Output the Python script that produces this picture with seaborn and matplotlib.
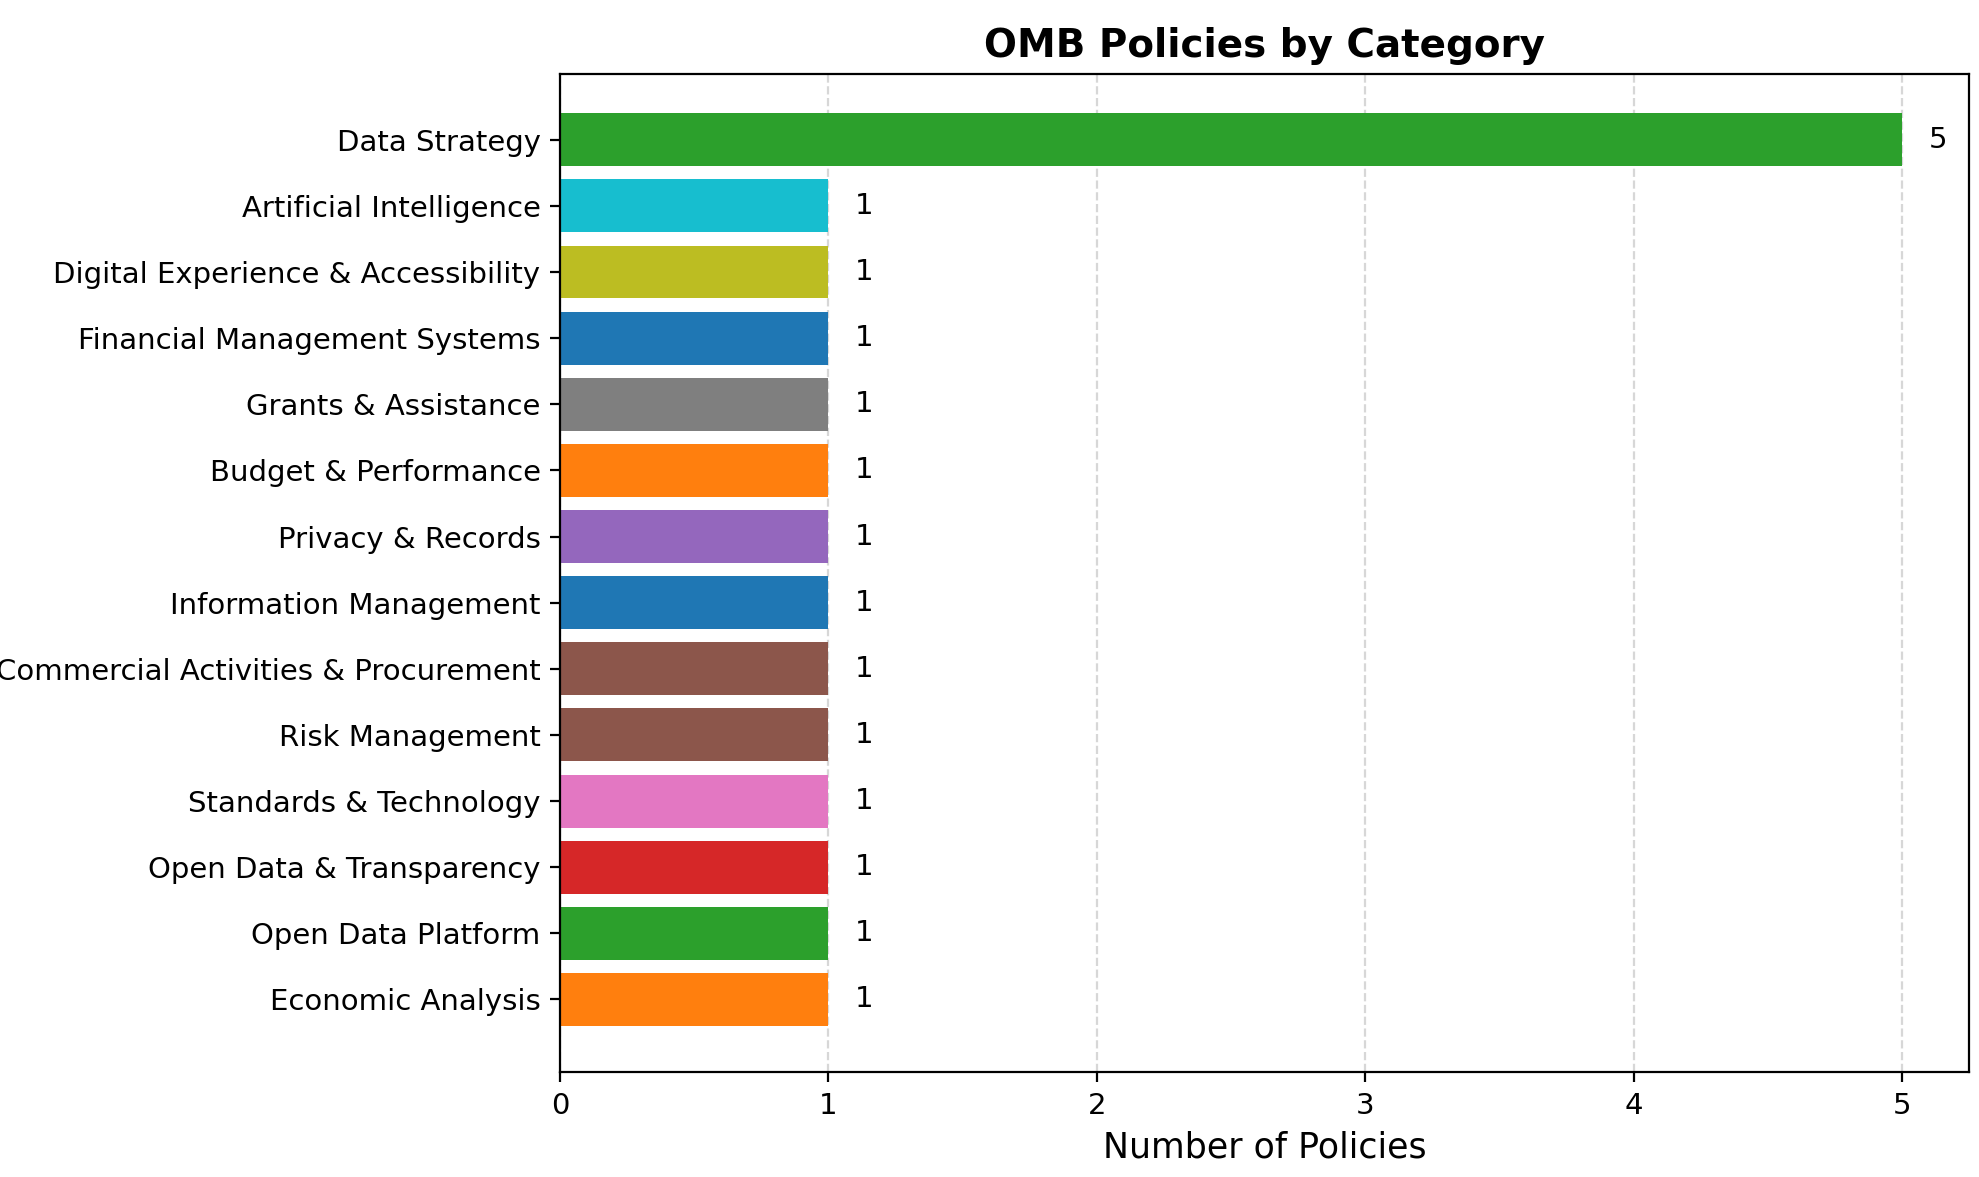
import matplotlib
matplotlib.use("Agg")
import matplotlib.pyplot as plt
import seaborn as sns
import pandas as pd

categories = ["Data Strategy", "Artificial Intelligence", "Digital Experience & Accessibility",
              "Financial Management Systems", "Grants & Assistance", "Budget & Performance",
              "Privacy & Records", "Information Management", "Commercial Activities & Procurement",
              "Risk Management", "Standards & Technology", "Open Data & Transparency",
              "Open Data Platform", "Economic Analysis"]
counts = [5, 1, 1, 1, 1, 1, 1, 1, 1, 1, 1, 1, 1, 1]
colors = ["#2ca02c", "#17becf", "#bcbd22", "#1f77b4", "#7f7f7f", "#ff7f0e", "#9467bd",
          "#1f77b4", "#8c564b", "#8c564b", "#e377c2", "#d62728", "#2ca02c", "#ff7f0e"]

df = pd.DataFrame({"Category": categories, "Count": counts})
plt.rcdefaults()
plt.rcParams['font.family'] = ['DejaVu Sans']
fig, ax = plt.subplots(figsize=(9.895, 5.885), dpi=200)
fig.subplots_adjust(left=0.283, right=0.995, top=0.9375, bottom=0.089)
sns.barplot(data=df, x="Count", y="Category", hue="Category", palette=colors,
            legend=False, saturation=1, width=0.8, ax=ax)
for i, v in enumerate(counts):
    ax.text(v + 0.1, i, str(v), va="center", ha="left", fontsize=10.5)
ax.set_xlim(0, 5.25)
ax.set_ylim(len(categories) + 0.1, -1.0)
ax.xaxis.grid(True, linestyle="--", alpha=0.5)
ax.yaxis.grid(False)
ax.set_axisbelow(True)
ax.set_ylabel("")
ax.set_xlabel("Number of Policies", fontsize=12.5)
ax.set_title("OMB Policies by Category", fontsize=14, fontweight="bold")
ax.tick_params(labelsize=10.5)
fig.savefig("out.png")
